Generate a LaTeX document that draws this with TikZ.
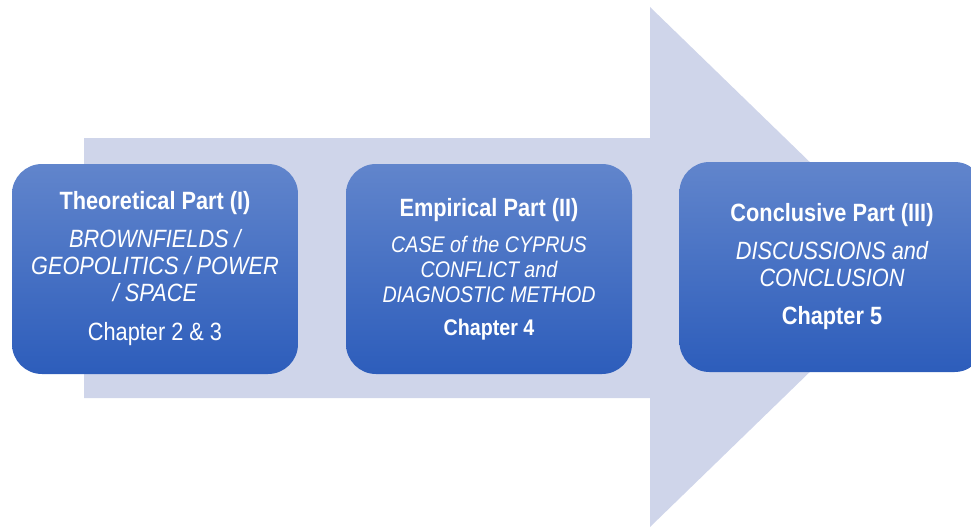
\documentclass[tikz,border=0pt]{standalone}
\usepackage{fontspec}
\setmainfont{Liberation Sans}[FakeStretch=0.87]
\usetikzlibrary{positioning, calc}
\definecolor{arrowfill}{HTML}{CFD5EA}
\definecolor{boxtop}{HTML}{6185CC}
\definecolor{boxbot}{HTML}{2D5DBB}

\begin{document}
\begin{tikzpicture}[
  x=1pt, y=-1pt,
  bigarrow/.style={fill=arrowfill, draw=none},
  partbox/.style={rectangle, rounded corners=30pt, top color=boxtop,
    bottom color=boxbot, draw=none, minimum height=210pt, inner sep=0pt,
    text=white, align=center, font=\fontsize{25}{27}\selectfont},
  smallpart/.style={font=\fontsize{22.6}{25}\selectfont},
]

\clip (0,0) rectangle (971,527);

% big arrow behind the parts
\fill[bigarrow] (84,138) -- (650,138) -- (650,7) -- (918,267)
  -- (650,527) -- (650,398) -- (84,398) -- cycle;

% part I
\node[partbox, minimum width=286pt] (theory) at (155,269)
  {\bfseries Theoretical Part (I)\\[11pt]
   \itshape BROWNFIELDS /\\ \itshape GEOPOLITICS / POWER\\
   \itshape / SPACE\\[12pt]
   Chapter 2 \& 3};

% part II
\node[partbox, smallpart, minimum width=286pt] (empirical) at (489,269)
  {\fontsize{25}{27}\selectfont\bfseries Empirical Part (II)\\[11pt]
   \itshape CASE of the CYPRUS\\ \itshape CONFLICT and\\
   \itshape DIAGNOSTIC METHOD\\[8pt]
   \bfseries Chapter 4};

% part III
\node[partbox, minimum width=305pt] (conclusive) at (832,267)
  {\bfseries Conclusive Part (III)\\[11pt]
   \itshape DISCUSSIONS and\\ \itshape CONCLUSION\\[11pt]
   \bfseries Chapter 5};

\end{tikzpicture}
\end{document}
